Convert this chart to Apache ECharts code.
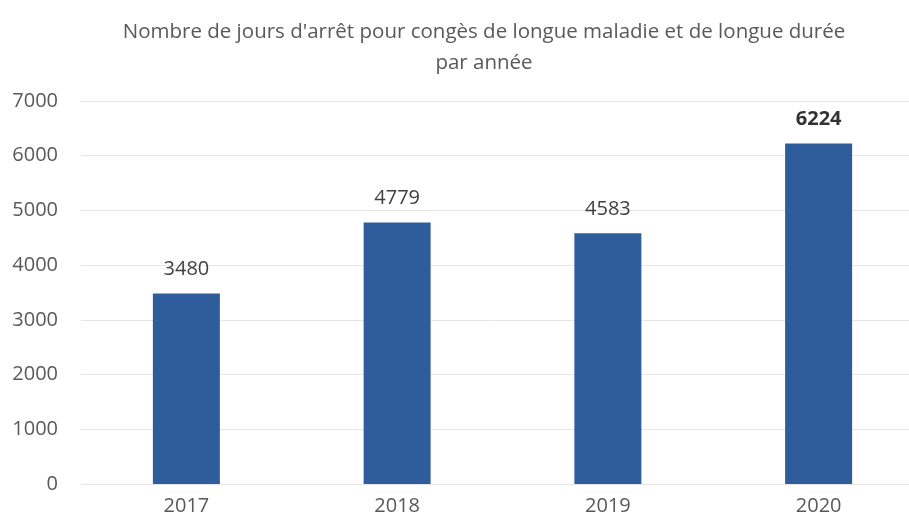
<!DOCTYPE html>
<html>
<head>
<meta charset="utf-8">
<script src="https://cdn.jsdelivr.net/npm/echarts@6/dist/echarts.min.js"></script>
<style>
  html, body { margin: 0; padding: 0; background: #ffffff; }
  #chart { width: 909px; height: 524px; }
</style>
</head>
<body>
<div id="chart"></div>
<script>
// Jours d'arrêt (CLM / CLD) par année
const years = ['2017', '2018', '2019', '2020'];
const joursArret = [3480, 4779, 4583, 6224];
const yTicks = [0, 1000, 2000, 3000, 4000, 5000, 6000, 7000];
const titleLines = [
  "Nombre de jours d'arrêt pour congès de longue maladie et de longue durée",
  'par année'
];

const lastIndex = joursArret.length - 1;
const chart = echarts.init(document.getElementById('chart'), null, { renderer: 'canvas' });

chart.setOption({
  animation: false,
  backgroundColor: '#ffffff',
  textStyle: { fontFamily: '"Open Sans", sans-serif' },
  title: {
    text: titleLines.join('\n'),
    left: 479,
    top: 12,
    textAlign: 'center',
    textStyle: {
      fontFamily: '"Open Sans", sans-serif',
      fontSize: 20.5,
      fontWeight: 'normal',
      color: '#595959',
      lineHeight: 31
    }
  },
  // the last category band runs slightly past the right edge
  grid: {
    left: 81, right: -15, top: 101, bottom: 40,
    containLabel: false,
    outerBoundsMode: 'none'
  },
  xAxis: {
    type: 'category',
    data: years,
    axisLine: { show: false },
    axisTick: { show: false },
    axisLabel: { fontSize: 20, color: '#595959', margin: 12 }
  },
  yAxis: {
    type: 'value',
    min: yTicks[0],
    max: yTicks[yTicks.length - 1],
    interval: yTicks[1] - yTicks[0],
    axisLine: { show: false },
    axisTick: { show: false },
    axisLabel: {
      fontSize: 20,
      color: '#595959',
      margin: 23,
      formatter: (v) => String(v)
    },
    splitLine: { lineStyle: { color: '#e6e6e6', width: 1 } }
  },
  series: [{
    type: 'bar',
    data: joursArret.map((v, i) => ({
      value: v,
      label: i === lastIndex ? { fontWeight: 'bold', color: '#333333' } : undefined
    })),
    barWidth: 67,
    itemStyle: { color: '#2f5c9a' },
    label: {
      show: true,
      position: 'top',
      distance: 14,
      fontSize: 20,
      color: '#404040'
    }
  }]
});
</script>
</body>
</html>
